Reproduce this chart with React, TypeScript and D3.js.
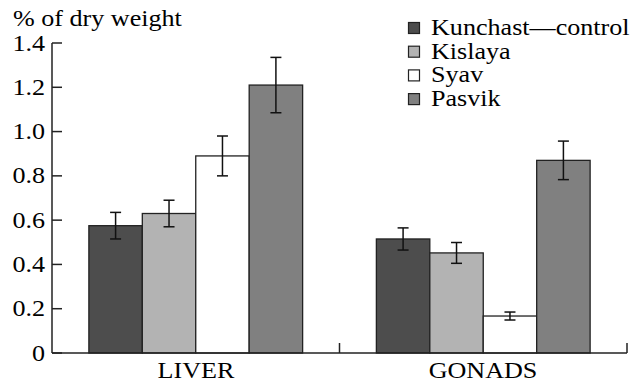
import React from "react";
import { scaleBand, scaleLinear } from "d3";

const organs = ["LIVER", "GONADS"];
const sites = ["Kunchast\u2014control", "Kislaya", "Syav", "Pasvik"];
const siteColors = ["#4d4d4d", "#b3b3b3", "#ffffff", "#808080"];
// values per organ, in the order of sites
const liverMean = [0.575, 0.63, 0.89, 1.21];
const liverErr = [0.06, 0.06, 0.09, 0.125];
const gonadsMean = [0.515, 0.452, 0.167, 0.87];
const gonadsErr = [0.05, 0.047, 0.018, 0.087];
const yTicks = [0, 0.2, 0.4, 0.6, 0.8, 1.0, 1.2, 1.4];

const W = 643;
const H = 383;
const FONT = "Liberation Serif";
const SX = 1.16; // the source text is a bit wide

const means = [liverMean, gonadsMean];
const errs = [liverErr, gonadsErr];

function Label({ x, y, anchor = "start", children }: any) {
  return (
    <text
      transform={`translate(${Math.round(x)},${Math.round(y)}) scale(${SX},1)`}
      textAnchor={anchor}
      fontFamily={FONT}
      fontSize={22.5}
      style={{ fontFamily: FONT, fontSize: 22.5 }}
    >
      {children}
    </text>
  );
}

export default function App() {
  const left = 52, right = 627, top = 43, bottom = 353;

  const y = scaleLinear().domain([0, 1.4]).range([bottom, top]);
  const x0 = scaleBand().domain(organs).range([left, right]).padding(0);
  const x1 = scaleBand()
    .domain(sites)
    .range([0, x0.bandwidth()])
    .paddingOuter(0.69)
    .paddingInner(0);

  const cap = 5.5;

  return (
    <svg
      width={W}
      height={H}
      fontFamily={FONT}
      style={{ position: "absolute", left: 0, top: 0, fontFamily: FONT }}
    >
      <Label x={13} y={26}>% of dry weight</Label>

      {/* y axis */}
      <line x1={left} x2={left} y1={top} y2={bottom} stroke="#222" strokeWidth={1.5} />
      {yTicks.map((t) => (
        <g key={t}>
          <line x1={left} x2={left + 10} y1={y(t)} y2={y(t)} stroke="#222" strokeWidth={1.5} />
          <Label x={45} y={y(t) + 7.5} anchor="end">
            {t === 0 ? "0" : t.toFixed(1)}
          </Label>
        </g>
      ))}

      {/* bars */}
      {organs.map((o, gi) => (
        <g key={o} transform={`translate(${x0(o)},0)`}>
          {sites.map((s, si) => {
            const v = means[gi][si];
            const e = errs[gi][si];
            const bx = x1(s)!;
            const cx = bx + x1.bandwidth() / 2;
            return (
              <g key={s}>
                <rect
                  x={bx}
                  y={y(v)}
                  width={x1.bandwidth()}
                  height={y(0) - y(v)}
                  fill={siteColors[si]}
                  stroke="#222"
                  strokeWidth={1.3}
                />
                <line x1={cx} x2={cx} y1={y(v + e)} y2={y(v - e)} stroke="#111" strokeWidth={1.5} />
                <line x1={cx - cap} x2={cx + cap} y1={y(v + e)} y2={y(v + e)} stroke="#111" strokeWidth={1.5} />
                <line x1={cx - cap} x2={cx + cap} y1={y(v - e)} y2={y(v - e)} stroke="#111" strokeWidth={1.5} />
              </g>
            );
          })}
        </g>
      ))}

      {/* x axis */}
      <line x1={left} x2={right} y1={bottom} y2={bottom} stroke="#222" strokeWidth={1.5} />
      {organs.map((o) => (
        <line
          key={o}
          x1={x0(o)! + x0.bandwidth()}
          x2={x0(o)! + x0.bandwidth()}
          y1={bottom}
          y2={bottom - 10}
          stroke="#222"
          strokeWidth={1.5}
        />
      ))}
      {organs.map((o) => (
        <Label key={o} x={x0(o)! + x0.bandwidth() / 2} y={378} anchor="middle">
          {o}
        </Label>
      ))}

      {/* legend */}
      {sites.map((s, i) => (
        <g key={s}>
          <rect
            x={408.5}
            y={22.5 + i * 23.7}
            width={11}
            height={11}
            fill={siteColors[i]}
            stroke="#222"
            strokeWidth={1.2}
          />
          <Label x={431} y={35 + i * 23.7}>{s}</Label>
        </g>
      ))}
    </svg>
  );
}
